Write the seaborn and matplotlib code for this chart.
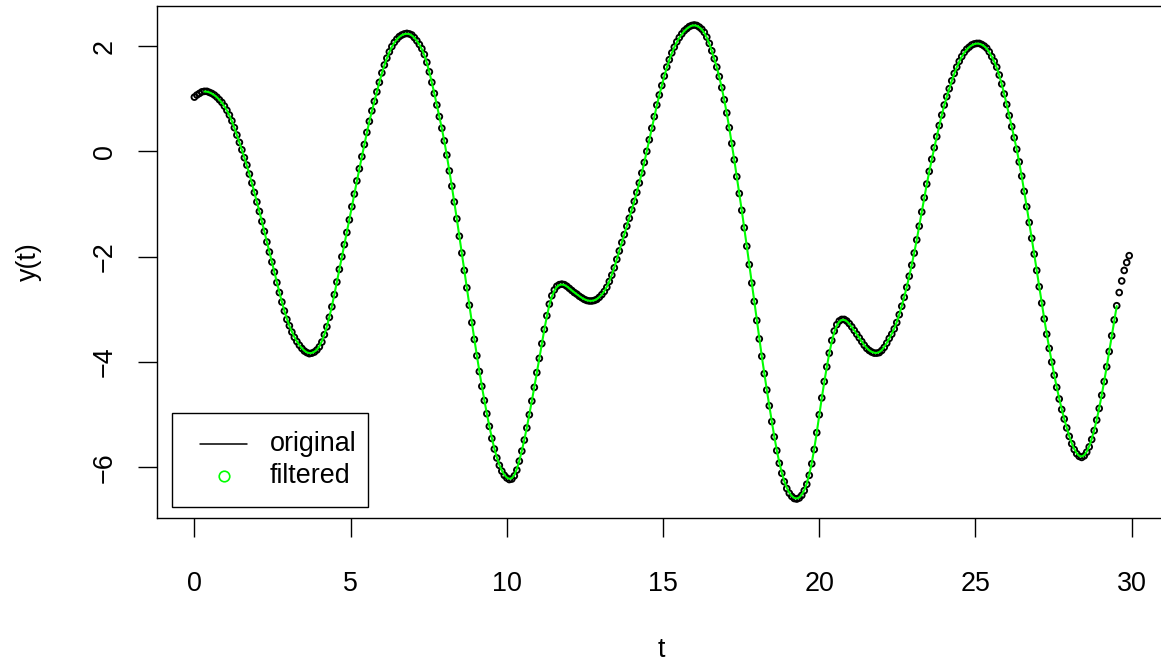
import numpy as np
import pandas as pd
import matplotlib
matplotlib.use("Agg")
import matplotlib.pyplot as plt
from matplotlib.lines import Line2D
from matplotlib.patches import Rectangle
import seaborn as sns

# ---- data (t step 0.08, from 0 to 29.92) ----
t_step = 0.08
y_original = [
    1.03, 1.07, 1.10, 1.13, 1.14, 1.14, 1.12, 1.10, 1.07, 1.03,
    0.98, 0.93, 0.86, 0.78, 0.69, 0.58, 0.45, 0.31, 0.17, 0.03,
    -0.12, -0.26, -0.43, -0.60, -0.78, -0.96, -1.14, -1.33, -1.52, -1.72,
    -1.91, -2.10, -2.29, -2.49, -2.68, -2.86, -3.03, -3.19, -3.31, -3.43,
    -3.53, -3.61, -3.68, -3.74, -3.79, -3.82, -3.84, -3.83, -3.81, -3.77,
    -3.71, -3.62, -3.48, -3.33, -3.15, -2.95, -2.72, -2.48, -2.24, -2.00,
    -1.77, -1.54, -1.30, -1.05, -0.81, -0.56, -0.33, -0.10, 0.13, 0.36,
    0.57, 0.77, 0.95, 1.13, 1.31, 1.49, 1.64, 1.77, 1.89, 1.99,
    2.07, 2.13, 2.18, 2.21, 2.23, 2.24, 2.23, 2.21, 2.16, 2.10,
    2.03, 1.95, 1.84, 1.69, 1.51, 1.31, 1.10, 0.88, 0.66, 0.44,
    0.20, -0.07, -0.37, -0.66, -0.96, -1.28, -1.61, -1.93, -2.26, -2.59,
    -2.92, -3.25, -3.57, -3.88, -4.18, -4.46, -4.73, -4.98, -5.22, -5.45,
    -5.65, -5.82, -5.96, -6.07, -6.15, -6.20, -6.23, -6.22, -6.16, -6.05,
    -5.88, -5.69, -5.48, -5.25, -5.00, -4.74, -4.48, -4.20, -3.93, -3.65,
    -3.38, -3.12, -2.90, -2.74, -2.63, -2.56, -2.53, -2.52, -2.53, -2.56,
    -2.60, -2.64, -2.68, -2.71, -2.75, -2.78, -2.81, -2.83, -2.84, -2.84,
    -2.83, -2.81, -2.77, -2.72, -2.66, -2.58, -2.47, -2.35, -2.21, -2.05,
    -1.89, -1.73, -1.58, -1.42, -1.27, -1.11, -0.95, -0.78, -0.60, -0.41,
    -0.21, 0.00, 0.22, 0.44, 0.66, 0.88, 1.07, 1.25, 1.43, 1.60,
    1.74, 1.87, 1.98, 2.08, 2.16, 2.23, 2.29, 2.33, 2.37, 2.39,
    2.40, 2.39, 2.36, 2.32, 2.26, 2.17, 2.05, 1.91, 1.76, 1.60,
    1.42, 1.21, 0.98, 0.73, 0.45, 0.15, -0.16, -0.48, -0.80, -1.12,
    -1.45, -1.80, -2.15, -2.50, -2.85, -3.21, -3.56, -3.89, -4.22, -4.53,
    -4.83, -5.13, -5.42, -5.68, -5.92, -6.11, -6.27, -6.40, -6.49, -6.55,
    -6.59, -6.60, -6.58, -6.53, -6.44, -6.32, -6.15, -5.93, -5.66, -5.34,
    -5.00, -4.68, -4.37, -4.09, -3.83, -3.59, -3.41, -3.29, -3.22, -3.19,
    -3.19, -3.22, -3.27, -3.33, -3.40, -3.47, -3.54, -3.61, -3.68, -3.74,
    -3.78, -3.81, -3.83, -3.83, -3.82, -3.78, -3.72, -3.64, -3.55, -3.47,
    -3.37, -3.25, -3.10, -2.94, -2.77, -2.58, -2.37, -2.16, -1.93, -1.68,
    -1.42, -1.15, -0.88, -0.62, -0.38, -0.15, 0.07, 0.28, 0.49, 0.69,
    0.88, 1.04, 1.19, 1.34, 1.48, 1.60, 1.71, 1.80, 1.88, 1.94,
    1.98, 2.02, 2.04, 2.05, 2.05, 2.03, 2.00, 1.96, 1.89, 1.80,
    1.71, 1.60, 1.45, 1.28, 1.09, 0.89, 0.68, 0.47, 0.26, 0.04,
    -0.20, -0.47, -0.76, -1.05, -1.35, -1.65, -1.95, -2.26, -2.57, -2.88,
    -3.18, -3.47, -3.74, -4.00, -4.25, -4.48, -4.70, -4.90, -5.08, -5.25,
    -5.41, -5.55, -5.66, -5.74, -5.79, -5.81, -5.78, -5.71, -5.61, -5.47,
    -5.30, -5.10, -4.88, -4.63, -4.37, -4.09, -3.80, -3.50, -3.20, -2.93,
    -2.68, -2.46, -2.26, -2.11, -1.98,
]
filter_na_start = 4   # filtered series undefined for the first 4 samples
filter_na_end = 5     # ... and for the last 5 samples
x_ticks = [0, 5, 10, 15, 20, 25, 30]
y_ticks = [-6, -4, -2, 0, 2]
legend_labels = ["original", "filtered"]

# ---- derived series ----
y = np.array(y_original, dtype=float)
t = np.round(np.arange(len(y)) * t_step, 2)
filtered = pd.Series(y).rolling(3, center=True, min_periods=1).mean().to_numpy()
filtered[:filter_na_start] = np.nan
filtered[len(y) - filter_na_end:] = np.nan
df = pd.DataFrame({"t": t, "y": y, "filtered": filtered})

# ---- style ----
sns.set_style("white")
plt.rcParams["font.family"] = ["Liberation Sans", "DejaVu Sans"]
plt.rcParams["text.color"] = "black"
plt.rcParams["axes.labelcolor"] = "black"
plt.rcParams["xtick.color"] = "black"
plt.rcParams["ytick.color"] = "black"
FS = 19.4
LW = 1.0

W, H = 1161, 666
fig = plt.figure(figsize=(W / 100, H / 100), dpi=100)
L, R, T, B = 157.0, 1166.6, 6.0, 518.0
ax = fig.add_axes([L / W, (H - B) / H, (R - L) / W, (B - T) / H])

sns.scatterplot(data=df, x="t", y="y", ax=ax, marker="o", s=17,
                facecolors="none", edgecolor="black", linewidth=1.35,
                legend=False, zorder=2)
sns.lineplot(data=df.dropna(), x="t", y="filtered", ax=ax, color="#00FF00",
             linewidth=1.5, estimator=None, legend=False, zorder=3)

xr = t.max() - t.min()
yr = y.max() - y.min()
ax.set_xlim(t.min() - 0.04 * xr, t.max() + 0.04 * xr)
ax.set_ylim(y.min() - 0.04 * yr, y.max() + 0.04 * yr)

ax.set_xticks(x_ticks)
ax.set_yticks(y_ticks)
ax.set_xticklabels([str(v) for v in x_ticks])
ax.set_yticklabels([("\u2212" + str(-v)) if v < 0 else str(v) for v in y_ticks])
ax.tick_params(axis="both", which="major", direction="out", length=14,
               width=LW, labelsize=FS, colors="black",
               bottom=True, left=True, top=False, right=False)
ax.tick_params(axis="x", pad=24)
ax.tick_params(axis="y", pad=14, labelrotation=90)
for lab in ax.get_yticklabels():
    lab.set_va("center")
    lab.set_ha("right")

for sp in ax.spines.values():
    sp.set_visible(True)
    sp.set_color("black")
    sp.set_linewidth(LW)

ax.set_xlabel("t", fontsize=FS)
ax.set_ylabel("y(t)", fontsize=FS)
ax.xaxis.set_label_coords(0.5, (B - 650) / (B - T))
ax.xaxis.label.set_va("center")
ax.yaxis.set_label_coords((28.5 - L) / (R - L), 0.5)
ax.yaxis.label.set_va("center")
ax.yaxis.label.set_ha("center")


def axc(px, py):
    return ((px - L) / (R - L), (B - py) / (B - T))


# ---- legend (R style, drawn in axes coordinates) ----
x0, y0 = axc(172, 507)
x1, y1 = axc(368, 413)
ax.add_patch(Rectangle((x0, y0), x1 - x0, y1 - y0, transform=ax.transAxes,
                       facecolor="white", edgecolor="black", linewidth=LW,
                       zorder=5))
la, lb = axc(200, 444), axc(247, 444)
ax.add_line(Line2D([la[0], lb[0]], [la[1], lb[1]], transform=ax.transAxes,
                   color="black", linewidth=1.1, zorder=6))
mc = axc(224, 476)
ax.add_line(Line2D([mc[0]], [mc[1]], transform=ax.transAxes, marker="o",
                   markersize=7.6, markerfacecolor="none",
                   markeredgecolor="#00FF00", markeredgewidth=1.2,
                   linestyle="none", zorder=6))
for lab, py in zip(legend_labels, [444, 476]):
    tx, ty = axc(270, py)
    ax.text(tx, ty, lab, transform=ax.transAxes, fontsize=FS, ha="left",
            va="center", color="black", zorder=6)

fig.savefig("out.png", dpi=100)
